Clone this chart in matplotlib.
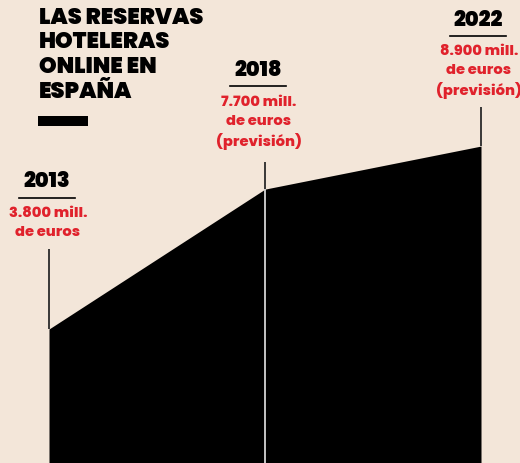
import numpy as np
import matplotlib.pyplot as plt

# Reservas hoteleras online en España (millones de euros)
years = ['2013', '2018', '2022']
values = [3800, 7700, 8900]
labels = ['3.800 mill.\nde euros',
          '7.700 mill.\nde euros\n(previsión)',
          '8.900 mill.\nde euros\n(previsión)']
title = 'LAS RESERVAS\nHOTELERAS\nONLINE EN\nESPAÑA'

bg = '#f3e6d9'
red = '#e0222c'
W, H = 520, 464
x = np.arange(len(years))

fig = plt.figure(figsize=(W / 100, H / 100), dpi=100, facecolor=bg)
ax = fig.add_axes([49 / W, -0.005, 432 / W, 1.005])
ax.set_facecolor(bg)
ax.fill_between(x, values, 0, color='black', lw=0)
ax.set_xlim(0, 2)
ax.set_ylim(0, 13000)
ax.axis('off')

# lineas verticales
line_tops = [6020, 8460, 9980]
for i in range(len(years)):
    ax.plot([x[i], x[i]], [values[i], line_tops[i]], color='#2a2a2a', lw=1.3,
            solid_capstyle='butt', clip_on=False)
ax.plot([x[1], x[1]], [0, values[1]], color='#d4d4d4', lw=1.3, solid_capstyle='butt')


def fx(px):
    return px / W


def fy(py):
    return 1 - py / H


# etiquetas de año y valor (centros en pixeles)
year_pos = [(47, 182.5), (258, 71), (478, 20.5)]
for i, (px, py) in enumerate(year_pos):
    fig.text(fx(px), fy(py), years[i], ha='center', va='center', fontsize=15,
             fontweight=900, family='Poppins', color='black')
    fig.add_artist(plt.Line2D([fx(px - 28), fx(px + 28)], [fy(py + 16), fy(py + 16)],
                              color='black', lw=1.2))
    for k, line in enumerate(labels[i].split('\n')):
        fig.text(fx(px + 1), fy(py + 31.5 + k * 19.5), line, ha='center', va='center',
                 fontsize=10.5, fontweight=800, family='Poppins', color=red)

for k, line in enumerate(title.split('\n')):
    fig.text(fx(39), fy(18 + k * 24.8), line, ha='left', va='center', fontsize=16.2,
             fontweight=900, family='Poppins', color='black')
fig.add_artist(plt.Rectangle((fx(38), fy(127)), 50 / W, 10 / H, color='black', lw=0))

fig.savefig('out.png', dpi=100, facecolor=bg)
